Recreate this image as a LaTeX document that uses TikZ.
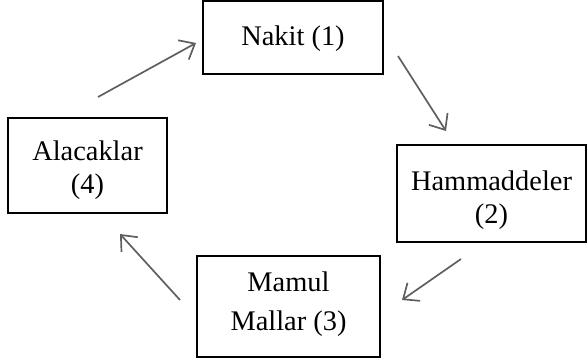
\documentclass[tikz,border=0pt]{standalone}
\usepackage{fontspec}
\setmainfont{Liberation Serif}
\usetikzlibrary{arrows.meta}
\definecolor{arrgray}{RGB}{95,95,95}
\begin{document}
\begin{tikzpicture}[x=0.5pt,y=-0.5pt,
  box/.style={draw=black,line width=0.75pt,fill=white,inner sep=0pt},
  txt/.style={inner sep=0pt,align=center,font=\fontsize{14.2}{16.5}\selectfont},
  arr/.style={draw=arrgray,line width=0.85pt,-{Straight Barb[length=6.5pt,width=11pt,line width=0.85pt]}}]
\useasboundingbox (0,0) rectangle (587,359);
\node[box,minimum width=180pt*0.5,minimum height=73pt*0.5] (nakit) at (293,37.5) {};
\node[box,minimum width=189pt*0.5,minimum height=97pt*0.5] (hamm) at (491.5,193.5) {};
\node[box,minimum width=183pt*0.5,minimum height=101pt*0.5] (mamul) at (288.5,306.5) {};
\node[box,minimum width=159pt*0.5,minimum height=95pt*0.5] (alac) at (87.5,165.5) {};
\node[txt] (nakit-t) at ([yshift=-0.5pt]nakit.center) {Nakit (1)};
\node[txt] (hamm-t) at ([yshift=-3.5pt]hamm.center) {Hammaddeler\\(2)};
\node[txt,font=\fontsize{14.2}{19.5}\selectfont] (mamul-t) at ([yshift=1pt]mamul.center) {Mamul\\Mallar (3)};
\node[txt] (alac-t) at ([yshift=-2.3pt]alac.center) {Alacaklar\\(4)};
\coordinate (a1s) at (398,56);
\coordinate (a1e) at (446,131);
\coordinate (a2s) at (461,259);
\coordinate (a2e) at (402,300);
\coordinate (a3s) at (180,300);
\coordinate (a3e) at (120,234);
\coordinate (a4s) at (98,97);
\coordinate (a4e) at (196,43);
\draw[arr] (a1s) -- (a1e);
\draw[arr] (a2s) -- (a2e);
\draw[arr] (a3s) -- (a3e);
\draw[arr] (a4s) -- (a4e);
\end{tikzpicture}
\end{document}
